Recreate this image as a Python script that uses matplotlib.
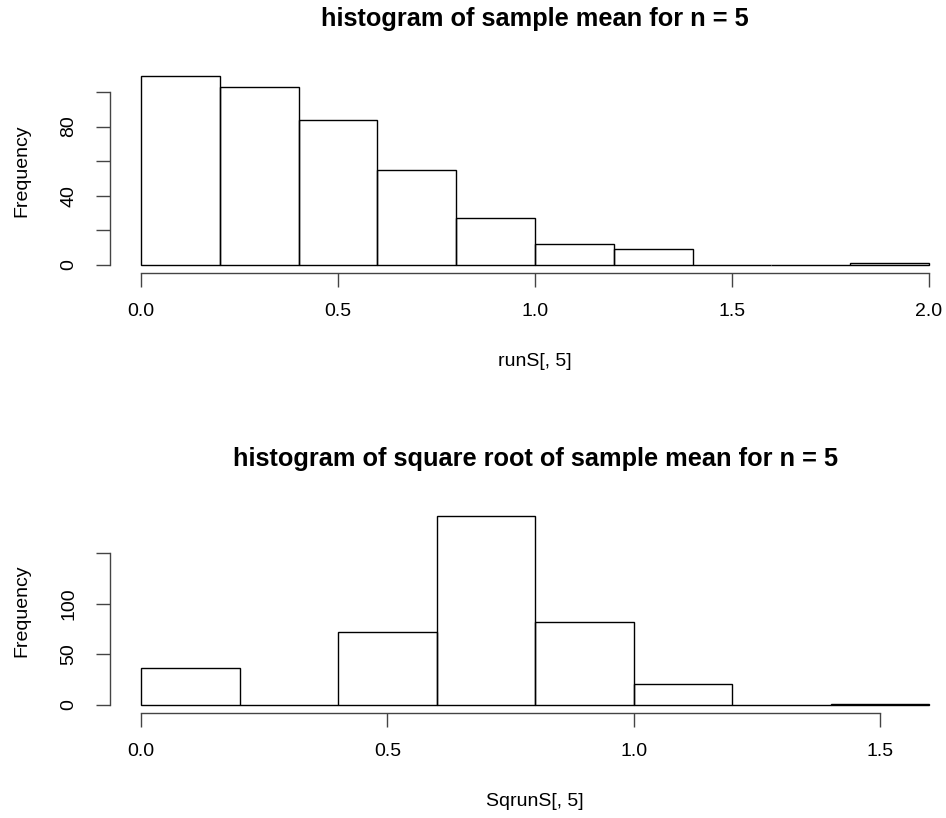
import numpy as np
import matplotlib.pyplot as plt

plt.rcParams['font.family'] = ['Liberation Sans', 'DejaVu Sans']

# bin counts for the sample mean (n = 5) and its square root
mean_edges = [0.0, 0.2, 0.4, 0.6, 0.8, 1.0, 1.2, 1.4, 1.6, 1.8, 2.0]
mean_counts = [109, 103, 84, 55, 27, 12, 9, 0, 0, 1]
mean_xticks = [0.0, 0.5, 1.0, 1.5, 2.0]
mean_yticks = [0, 20, 40, 60, 80, 100]
mean_ylabels = ['0', '', '40', '', '80', '']

sqrt_edges = [0.0, 0.2, 0.4, 0.6, 0.8, 1.0, 1.2, 1.4, 1.6]
sqrt_counts = [37, 0, 72, 187, 82, 21, 0, 1]
sqrt_xticks = [0.0, 0.5, 1.0, 1.5]
sqrt_yticks = [0, 50, 100, 150]
sqrt_ylabels = ['0', '50', '100', '']

W, H = 946, 818
fig = plt.figure(figsize=(W / 100, H / 100), dpi=100)


def r_hist(box, edges, counts, xticks, yticks, ylabels, title, xlabel, title_pad):
    left, top, right, bottom = box
    ax = fig.add_axes([left / W, 1 - bottom / H, (right - left) / W, (bottom - top) / H])
    edges = np.asarray(edges)
    widths = np.diff(edges)
    ax.bar(edges[:-1], counts, width=widths, align='edge', fill=False,
           edgecolor='black', linewidth=1.0)
    # R-style 4% padding around the data range
    xr = edges[-1] - edges[0]
    ax.set_xlim(edges[0] - 0.04 * xr, edges[-1] + 0.04 * xr)
    ymax = max(counts)
    ax.set_ylim(-0.04 * ymax, ymax * 1.04)

    for s in ['top', 'right']:
        ax.spines[s].set_visible(False)
    ax.spines['bottom'].set_bounds(xticks[0], xticks[-1])
    ax.spines['left'].set_bounds(yticks[0], yticks[-1])
    for s in ['bottom', 'left']:
        ax.spines[s].set_color('#444444')
        ax.spines[s].set_linewidth(1.0)

    ax.set_xticks(xticks)
    ax.set_xticklabels(['%.1f' % t for t in xticks])
    ax.set_yticks(yticks)
    ax.set_yticklabels(ylabels, rotation=90, va='center')
    ax.tick_params(axis='both', direction='out', length=10, width=1.0,
                   color='#444444', labelsize=14)
    ax.tick_params(axis='x', pad=12)
    ax.tick_params(axis='y', pad=13)

    ax.set_title(title, fontsize=18.3, fontweight='bold', pad=title_pad)
    ax.set_xlabel(xlabel, fontsize=14, labelpad=24)
    ax.set_ylabel('Frequency', fontsize=14, labelpad=22)
    return ax


r_hist((109.5, 68.9, 960.5, 272.5), mean_edges, mean_counts, mean_xticks,
       mean_yticks, mean_ylabels, 'histogram of sample mean for n = 5', 'runS[, 5]', 31)
r_hist((109.5, 508.0, 961.0, 712.6), sqrt_edges, sqrt_counts, sqrt_xticks,
       sqrt_yticks, sqrt_ylabels,
       'histogram of square root of sample mean for n = 5', 'SqrunS[, 5]', 30)

fig.savefig('out.png', dpi=100)
